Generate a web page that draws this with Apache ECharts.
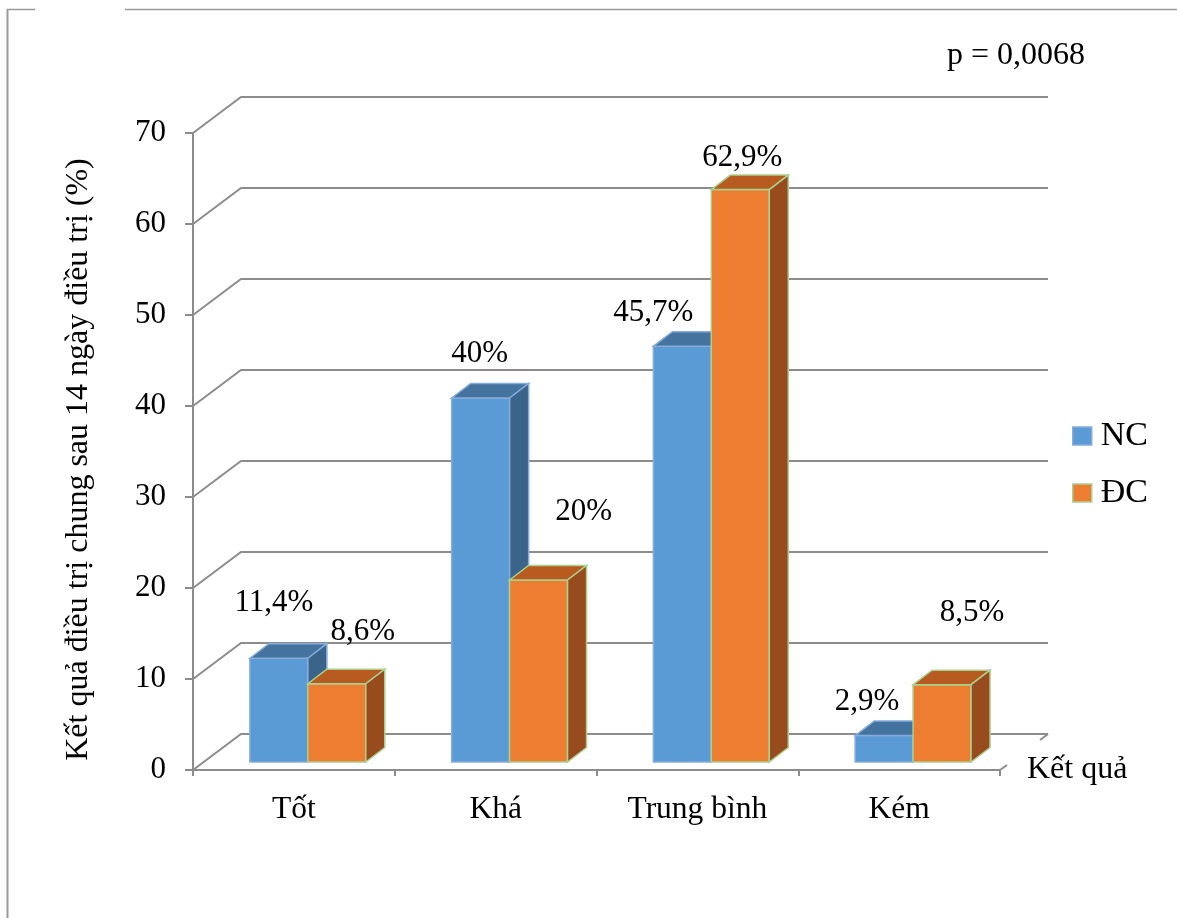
<!DOCTYPE html>
<html>
<head>
<meta charset="utf-8">
<script src="https://cdn.jsdelivr.net/npm/echarts@6/dist/echarts.min.js"></script>
<style>
html,body{margin:0;padding:0;background:#fff;}
#chart{width:1177px;height:918px;}
</style>
</head>
<body>
<div id="chart"></div>
<script>
// ---- data ----
const categories = ['Tốt', 'Khá', 'Trung bình', 'Kém'];
const seriesNames = ['NC', 'ĐC'];
const ncValues = [11.4, 40, 45.7, 2.9];
const dcValues = [8.6, 20, 62.9, 8.5];
const yTicks = [0, 10, 20, 30, 40, 50, 60, 70];
const xAxisName = 'Kết quả';
const yAxisName = 'Kết quả điều trị chung sau 14 ngày điều trị (%)';
const noteText = 'p = 0,0068';

// ---- layout / style (not data) ----
const FONT = '"Liberation Serif", "Times New Roman", serif';
const GRID_COLOR = '#8c8c8c';
const WALL_DX = 48, WALL_DY = -36;     // depth of the 3D walls
const BAR_DX = 19, BAR_DY = -14.5;     // depth of each bar
const BAR_SHIFT = -8;                  // bars sit slightly behind the front plane
const labelNudge = {
  NC: [[-5, -55], [-1, -44], [-29, -33], [-17, -34]],
  'ĐC': [[26, -52], [45, -68], [2, -32], [30, -72]]
};
const styles = {
  NC: { front: '#5b9bd5', top: '#44739f', side: '#3a6489', stroke: '#87acdc', barLeft: -0.218 },
  'ĐC': { front: '#ed7d31', top: '#b85b21', side: '#984c1d', stroke: '#a9d18e', barLeft: 0.069 }
};
const BAR_W = 0.2875;

function fmt(v) { return String(v).replace('.', ',') + '%'; }

function wallRender(params, api) {
  const v = api.value(1);
  const band = api.size([1, 0])[0];
  const pL = api.coord([0, v]);
  const pR = api.coord([categories.length - 1, v]);
  const x0 = pL[0] - band / 2;
  const x1 = pR[0] + band / 2;
  const y = pL[1];
  const children = [{
    type: 'polyline',
    shape: { points: [[x0, y], [x0 + WALL_DX, y + WALL_DY], [x1 + WALL_DX, y + WALL_DY]] },
    style: { stroke: GRID_COLOR, lineWidth: 2, fill: null }
  }];
  if (v === 0) {
    children.push({
      type: 'line',
      shape: { x1: x1, y1: y, x2: x1 + 7, y2: y - 5 },
      style: { stroke: GRID_COLOR, lineWidth: 2 }
    });
    children.push({
      type: 'line',
      shape: { x1: x1 + WALL_DX, y1: y + WALL_DY, x2: x1 + WALL_DX - 8, y2: y + WALL_DY + 6 },
      style: { stroke: GRID_COLOR, lineWidth: 2 }
    });
  }
  return { type: 'group', children: children };
}

function makeBarRender(name) {
  const st = styles[name];
  return function (params, api) {
    const idx = params.dataIndex;
    const cat = api.value(0);
    const v = api.value(1);
    const band = api.size([1, 0])[0];
    const p0 = api.coord([cat, 0]);
    const pv = api.coord([cat, v]);
    const w = band * BAR_W;
    const left = p0[0] + band * st.barLeft;
    const base = p0[1] + BAR_SHIFT;
    const top = pv[1] + BAR_SHIFT;
    const sw = 1.5;
    const nudge = labelNudge[name][idx];
    return {
      type: 'group',
      children: [
        {
          type: 'rect',
          shape: { x: left, y: top, width: w, height: base - top },
          style: { fill: st.front, stroke: st.stroke, lineWidth: sw }
        },
        {
          type: 'polygon',
          shape: { points: [[left, top], [left + BAR_DX, top + BAR_DY], [left + w + BAR_DX, top + BAR_DY], [left + w, top]] },
          style: { fill: st.top, stroke: st.stroke, lineWidth: sw }
        },
        {
          type: 'polygon',
          shape: { points: [[left + w, top], [left + w + BAR_DX, top + BAR_DY], [left + w + BAR_DX, base + BAR_DY], [left + w, base]] },
          style: { fill: st.side, stroke: st.stroke, lineWidth: sw }
        },
        {
          type: 'text',
          style: {
            text: fmt(v),
            x: left + w / 2 + nudge[0],
            y: top + nudge[1],
            fill: '#000',
            font: '31px ' + FONT,
            align: 'center',
            verticalAlign: 'middle'
          }
        }
      ]
    };
  };
}

const chart = echarts.init(document.getElementById('chart'), null, { renderer: 'canvas' });

const option = {
  backgroundColor: '#ffffff',
  animation: false,
  title: {
    text: noteText,
    left: 947,
    top: 40,
    padding: 0,
    textStyle: { fontFamily: FONT, fontSize: 32, fontWeight: 'normal', color: '#000' }
  },
  legend: {
    orient: 'vertical',
    left: 1072,
    top: 419,
    padding: 0,
    itemWidth: 19,
    itemHeight: 18,
    itemGap: 23,
    icon: 'rect',
    textStyle: { fontFamily: FONT, fontSize: 34, color: '#000', padding: [0, 0, 0, 4] },
    data: [
      { name: 'NC', itemStyle: { color: styles.NC.front, borderColor: styles.NC.stroke, borderWidth: 1.5 } },
      { name: 'ĐC', itemStyle: { color: styles['ĐC'].front, borderColor: styles['ĐC'].stroke, borderWidth: 1.5 } }
    ]
  },
  grid: { left: 193, top: 133, width: 807, height: 637, containLabel: false },
  xAxis: {
    type: 'category',
    data: categories,
    name: xAxisName,
    nameLocation: 'end',
    nameGap: 27,
    nameTextStyle: { fontFamily: FONT, fontSize: 32, color: '#000', padding: [10, 0, 0, 0] },
    axisLine: { show: true, lineStyle: { color: GRID_COLOR, width: 2 } },
    axisTick: { show: true, length: 6, lineStyle: { color: GRID_COLOR, width: 2 } },
    axisLabel: { interval: 0, fontFamily: FONT, fontSize: 31.5, color: '#000', margin: 24 },
    splitLine: { show: false }
  },
  yAxis: {
    type: 'value',
    min: 0,
    max: 70,
    interval: 10,
    name: yAxisName,
    nameLocation: 'middle',
    nameRotate: 90,
    nameGap: 98,
    nameTextStyle: { fontFamily: FONT, fontSize: 32, color: '#000', padding: [0, 16, 0, 0] },
    axisLine: { show: true, lineStyle: { color: GRID_COLOR, width: 2 } },
    axisTick: { show: true, length: 8, lineStyle: { color: GRID_COLOR, width: 2 } },
    axisLabel: { fontFamily: FONT, fontSize: 31, color: '#000', margin: 27 },
    splitLine: { show: false }
  },
  graphic: [
    { type: 'line', shape: { x1: 7.5, y1: 9, x2: 7.5, y2: 918 }, style: { stroke: '#999', lineWidth: 2 }, silent: true },
    { type: 'line', shape: { x1: 7, y1: 9.5, x2: 35, y2: 9.5 }, style: { stroke: '#999', lineWidth: 1.5 }, silent: true },
    { type: 'line', shape: { x1: 125, y1: 9.5, x2: 1177, y2: 9.5 }, style: { stroke: '#999', lineWidth: 1.5 }, silent: true }
  ],
  series: [
    {
      type: 'custom',
      name: 'walls',
      renderItem: wallRender,
      data: yTicks.map(t => [0, t]),
      encode: { x: 0, y: 1 },
      z: 1,
      silent: true
    },
    {
      type: 'custom',
      name: 'NC',
      renderItem: makeBarRender('NC'),
      data: ncValues.map((v, i) => [i, v]),
      encode: { x: 0, y: 1 },
      itemStyle: { color: styles.NC.front },
      z: 3
    },
    {
      type: 'custom',
      name: 'ĐC',
      renderItem: makeBarRender('ĐC'),
      data: dcValues.map((v, i) => [i, v]),
      encode: { x: 0, y: 1 },
      itemStyle: { color: styles['ĐC'].front },
      z: 4
    }
  ]
};

chart.setOption(option);
</script>
</body>
</html>
